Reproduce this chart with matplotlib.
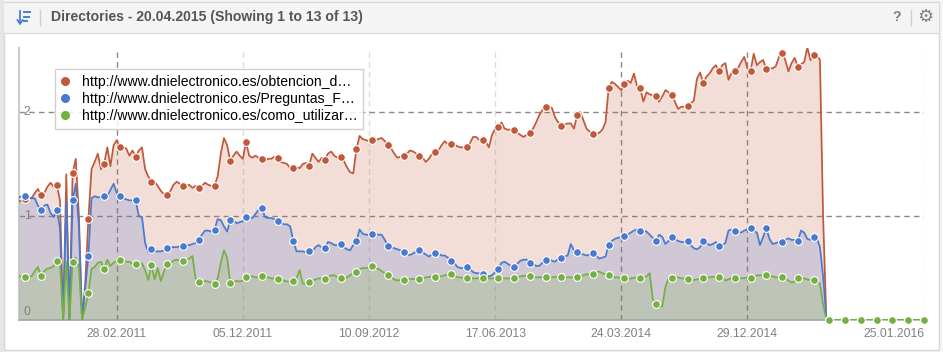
import pandas as pd
import numpy as np
import matplotlib
matplotlib.use("Agg")
import matplotlib.pyplot as plt
from matplotlib.lines import Line2D
from matplotlib.patches import Rectangle

plt.rcParams['font.family'] = ['Liberation Sans', 'DejaVu Sans']

title = "Directories - 20.04.2015 (Showing 1 to 13 of 13)"
series_names = ["http://www.dnielectronico.es/obtencion_d…",
                "http://www.dnielectronico.es/Preguntas_F…",
                "http://www.dnielectronico.es/como_utilizar…"]
tick_labels = ["28.02.2011", "05.12.2011", "10.09.2012", "17.06.2013",
               "24.03.2014", "29.12.2014", "25.01.2016"]
y_labels = [0, 1, 2]
first_week = "2010-07-26"

# weekly values, every 5th week carries a marker
red = [1.14, 1.15,
       1.16, 1.18, 1.17, 1.22, 1.26, 1.20, 1.22, 1.28, 1.32, 1.28,
       1.30, 1.15, 0.0, 1.40, 0.0, 1.41, 1.55, 1.0, 0.0, 0.35,
       0.97, 1.45, 1.52, 1.60, 1.45, 1.50, 1.66, 1.48, 1.68, 1.73,
       1.66, 1.66, 1.65, 1.58, 1.63, 1.57, 1.63, 1.66, 1.45, 1.38,
       1.33, 1.33, 1.29, 1.24, 1.21, 1.20, 1.24, 1.30, 1.33, 1.31,
       1.29, 1.29, 1.30, 1.27, 1.29, 1.27, 1.29, 1.32, 1.30, 1.29,
       1.29, 1.38, 1.60, 1.75, 1.68, 1.53, 1.58, 1.62, 1.58, 1.55,
       1.71, 1.58, 1.56, 1.58, 1.56, 1.55, 1.53, 1.55, 1.55, 1.57,
       1.56, 1.52, 1.51, 1.50, 1.46, 1.46, 1.47, 1.46, 1.50, 1.51,
       1.48, 1.60, 1.56, 1.52, 1.56, 1.54, 1.60, 1.62, 1.58, 1.56,
       1.57, 1.53, 1.47, 1.42, 1.41, 1.64, 1.77, 1.74, 1.73, 1.72,
       1.73, 1.73, 1.74, 1.75, 1.72, 1.68, 1.65, 1.60, 1.56, 1.57,
       1.58, 1.60, 1.63, 1.62, 1.60, 1.58, 1.56, 1.52, 1.55, 1.60,
       1.62, 1.63, 1.68, 1.72, 1.69, 1.69, 1.69, 1.67, 1.66, 1.66,
       1.66, 1.70, 1.76, 1.76, 1.73, 1.73, 1.72, 1.66, 1.78, 1.84,
       1.86, 1.90, 1.84, 1.83, 1.83, 1.83, 1.80, 1.78, 1.76, 1.78,
       1.80, 1.84, 1.90, 1.97, 2.02, 2.045, 2.05, 2.04, 1.95, 1.90,
       1.87, 1.88, 1.89, 1.89, 1.84, 1.97, 2.00, 1.92, 1.84, 1.81,
       1.79, 1.79, 1.80, 1.83, 1.90, 2.23, 2.29, 2.27, 2.24, 2.21,
       2.27, 2.30, 2.28, 2.37, 2.25, 2.23, 2.10, 2.19, 2.17, 2.16,
       2.15, 2.10, 2.15, 2.21, 2.19, 2.165, 2.10, 2.03, 2.05, 2.05,
       2.06, 2.08, 2.11, 2.32, 2.38, 2.275, 2.34, 2.37, 2.42, 2.45,
       2.39, 2.45, 2.47, 2.31, 2.38, 2.395, 2.42, 2.48, 2.53, 2.42,
       2.395, 2.56, 2.45, 2.48, 2.50, 2.41, 2.42, 2.42, 2.44, 2.53,
       2.57, 2.50, 2.39, 2.47, 2.52, 2.435, 2.46, 2.48, 2.62, 2.50,
       2.55, 2.55, 2.50, 1.0, 0.03,
       0, 0, 0, 0, 0, 0, 0, 0, 0, 0, 0, 0, 0, 0, 0, 0,
       0, 0, 0, 0, 0, 0, 0, 0, 0, 0, 0, 0, 0, 0, 0]

blue = [1.18, 1.19,
        1.19, 1.18, 1.17, 1.17, 1.10, 1.06, 1.10, 1.11, 1.03, 0.99,
        1.06, 0.88, 0.0, 1.15, 0.0, 1.15, 1.31, 0.90, 0.0, 0.30,
        0.62, 1.17, 1.19, 1.18, 1.18, 1.19, 1.19, 1.25, 1.31, 1.22,
        1.19, 1.17, 1.16, 1.15, 1.15, 1.15, 1.0, 0.99, 0.74, 0.65,
        0.68, 0.66, 0.66, 0.66, 0.67, 0.69, 0.70, 0.70, 0.70, 0.71,
        0.71, 0.72, 0.72, 0.73, 0.74, 0.77, 0.82, 0.86, 0.86, 0.85,
        0.87, 0.97, 0.96, 0.90, 0.85, 0.96, 0.96, 0.93, 0.94, 0.95,
        0.99, 0.99, 0.98, 1.02, 1.06, 1.08, 0.99, 0.98, 0.98, 0.97,
        0.955, 0.94, 0.92, 0.92, 0.90, 0.76, 0.66, 0.66, 0.66, 0.65,
        0.66, 0.66, 0.70, 0.72, 0.70, 0.695, 0.75, 0.74, 0.72, 0.72,
        0.73, 0.70, 0.68, 0.67, 0.72, 0.755, 0.87, 0.83, 0.82, 0.82,
        0.83, 0.83, 0.82, 0.82, 0.77, 0.715, 0.70, 0.69, 0.68, 0.67,
        0.65, 0.63, 0.625, 0.64, 0.66, 0.67, 0.65, 0.63, 0.61, 0.63,
        0.645, 0.64, 0.62, 0.62, 0.60, 0.57, 0.55, 0.51, 0.50, 0.50,
        0.505, 0.49, 0.46, 0.45, 0.45, 0.44, 0.43, 0.42, 0.43, 0.46,
        0.495, 0.55, 0.56, 0.54, 0.52, 0.51, 0.54, 0.57, 0.58, 0.58,
        0.55, 0.54, 0.52, 0.52, 0.55, 0.58, 0.58, 0.57, 0.56, 0.59,
        0.60, 0.61, 0.62, 0.73, 0.67, 0.65, 0.64, 0.63, 0.62, 0.63,
        0.645, 0.62, 0.59, 0.60, 0.61, 0.72, 0.76, 0.78, 0.79, 0.80,
        0.81, 0.82, 0.84, 0.86, 0.87, 0.86, 0.86, 0.85, 0.82, 0.79,
        0.76, 0.82, 0.80, 0.73, 0.76, 0.80, 0.78, 0.76, 0.75, 0.75,
        0.76, 0.72, 0.69, 0.68, 0.70, 0.76, 0.74, 0.72, 0.73, 0.75,
        0.71, 0.72, 0.74, 0.86, 0.87, 0.86, 0.85, 0.84, 0.86, 0.87,
        0.88, 0.86, 0.84, 0.72, 0.80, 0.88, 0.78, 0.73, 0.74, 0.75,
        0.75, 0.77, 0.785, 0.77, 0.77, 0.76, 0.86, 0.84, 0.78, 0.77,
        0.795, 0.79, 0.70, 0.42, 0.03,
        0, 0, 0, 0, 0, 0, 0, 0, 0, 0, 0, 0, 0, 0, 0, 0,
        0, 0, 0, 0, 0, 0, 0, 0, 0, 0, 0, 0, 0, 0, 0]

green = [0.42, 0.42,
         0.415, 0.42, 0.42, 0.47, 0.51, 0.42, 0.47, 0.495, 0.50, 0.52,
         0.57, 0.55, 0.0, 0.56, 0.0, 0.56, 0.60, 0.50, 0.0, 0.12,
         0.26, 0.49, 0.51, 0.55, 0.56, 0.49, 0.58, 0.52, 0.55, 0.57,
         0.58, 0.57, 0.56, 0.56, 0.54, 0.54, 0.535, 0.545, 0.48, 0.385,
         0.53, 0.39, 0.50, 0.375, 0.47, 0.54, 0.55, 0.57, 0.58, 0.57,
         0.57, 0.58, 0.59, 0.615, 0.40, 0.365, 0.37, 0.375, 0.37, 0.36,
         0.35, 0.40, 0.55, 0.67, 0.60, 0.36, 0.37, 0.375, 0.37, 0.38,
         0.41, 0.42, 0.42, 0.41, 0.41, 0.42, 0.41, 0.41, 0.40, 0.40,
         0.39, 0.39, 0.38, 0.37, 0.37, 0.375, 0.40, 0.48, 0.35, 0.35,
         0.37, 0.38, 0.39, 0.40, 0.40, 0.39, 0.41, 0.43, 0.43, 0.41,
         0.40, 0.40, 0.41, 0.43, 0.45, 0.46, 0.49, 0.50, 0.50, 0.50,
         0.52, 0.50, 0.49, 0.47, 0.45, 0.43, 0.41, 0.39, 0.38, 0.385,
         0.385, 0.39, 0.395, 0.395, 0.39, 0.395, 0.40, 0.41, 0.415, 0.415,
         0.415, 0.42, 0.42, 0.43, 0.44, 0.44, 0.43, 0.41, 0.41, 0.40,
         0.40, 0.40, 0.40, 0.40, 0.40, 0.40, 0.40, 0.40, 0.40, 0.40,
         0.405, 0.40, 0.40, 0.40, 0.40, 0.40, 0.41, 0.42, 0.425, 0.425,
         0.425, 0.42, 0.41, 0.41, 0.415, 0.415, 0.41, 0.41, 0.415, 0.415,
         0.415, 0.41, 0.41, 0.41, 0.41, 0.41, 0.42, 0.43, 0.44, 0.44,
         0.445, 0.46, 0.465, 0.45, 0.44, 0.435, 0.42, 0.41, 0.41, 0.40,
         0.405, 0.40, 0.40, 0.405, 0.41, 0.405, 0.41, 0.42, 0.45, 0.20,
         0.155, 0.13, 0.13, 0.32, 0.40, 0.405, 0.41, 0.41, 0.40, 0.40,
         0.395, 0.38, 0.385, 0.39, 0.40, 0.405, 0.41, 0.41, 0.415, 0.415,
         0.415, 0.41, 0.38, 0.39, 0.405, 0.405, 0.405, 0.40, 0.405, 0.405,
         0.405, 0.41, 0.43, 0.43, 0.43, 0.43, 0.42, 0.42, 0.41, 0.41,
         0.41, 0.40, 0.38, 0.36, 0.37, 0.405, 0.40, 0.40, 0.39, 0.385,
         0.38, 0.37, 0.35, 0.15, 0.01,
         0, 0, 0, 0, 0, 0, 0, 0, 0, 0, 0, 0, 0, 0, 0, 0,
         0, 0, 0, 0, 0, 0, 0, 0, 0, 0, 0, 0, 0, 0, 0]

colors = ['#C0583A', '#4A7AD0', '#76B043']
W, H = 943, 352

fig = plt.figure(figsize=(W / 100, H / 100), dpi=100, facecolor='white')

# page furniture in pixel coordinates
bg = fig.add_axes([0, 0, 1, 1])
bg.set_xlim(0, W)
bg.set_ylim(H, 0)
bg.axis('off')
bg.add_patch(Rectangle((0, 0), W, H, fc='#f6f6f6', ec='none'))
bg.add_patch(Rectangle((0, 0), 3.5, H, fc='#e6e6e6', ec='none'))
bg.add_patch(Rectangle((3.5, 2), 935.5, 348, fc='white', ec='#d6d6d6', lw=1))
bg.add_patch(Rectangle((4, 2.5), 934.5, 30, fc='#f4f4f4', ec='none'))
bg.plot([4, 939], [32.5, 32.5], color='#dddddd', lw=1)
bg.plot([39.5, 39.5], [10, 25], color='#cfcfcf', lw=1)
bg.plot([910.5, 910.5], [10, 25], color='#cfcfcf', lw=1)
# sort icon
bg.plot([20, 20], [11, 23], color='#4a7fd0', lw=1.3)
bg.plot([17.5, 20, 22.5], [20, 24, 20], color='#4a7fd0', lw=1.3)
for yy, xr in [(12, 30), (16.5, 28.5), (21, 26.5)]:
    bg.plot([24, xr], [yy, yy], color='#4a7fd0', lw=1.4)
bg.text(51, 17, title, fontsize=10.1, fontweight='bold', color='#555555', va='center', ha='left')
bg.text(897, 17, "?", fontsize=10, fontweight='bold', color='#808080', va='center', ha='center')
bg.text(925, 17, "\u2699", fontsize=13, fontweight='bold', color='#808080', va='center', ha='center', family='DejaVu Sans')

dates = pd.date_range(first_week, periods=len(red), freq='7D')
tick_dates = pd.to_datetime(tick_labels, format='%d.%m.%Y')

ax = fig.add_axes([19 / W, 1 - 320 / H, 905 / W, 272 / H])
ax.patch.set_alpha(0)
ax.set_xlim(dates[0], dates[-1])
ax.set_ylim(0, 272 / 104)

# grid, some of the vertical lines are fainter in the original
for d, c in zip(tick_dates, ['#8a8a8a', '#dddddd', '#dddddd', '#dddddd', '#8a8a8a', '#8a8a8a', '#e4e4e4']):
    ax.axvline(d, color=c, lw=1, dashes=(4, 3), zorder=1)
for v in y_labels[1:]:
    ax.axhline(v, color='#8a8a8a', lw=1, dashes=(4, 3), zorder=1)

for i, (vals, c) in enumerate(zip([red, blue, green], colors)):
    ax.fill_between(dates, vals, 0, color=c, alpha=0.2, lw=0, zorder=2 + i)
    ax.plot(dates, vals, color=c, lw=1.25, zorder=5 + i, solid_joinstyle='round')
for i, (vals, c) in enumerate(zip([red, blue, green], colors)):
    ax.plot(dates[2::5], np.array(vals)[2::5], ls='none', marker='o', ms=5.6, mfc=c,
            mec='white', mew=0.8, zorder=8 + i, clip_on=False)

for s in ['top', 'right']:
    ax.spines[s].set_visible(False)
ax.spines['left'].set_color('#cccccc')
ax.spines['left'].set_linewidth(1.6)
ax.spines['bottom'].set_color('#b5b5b5')
ax.spines['bottom'].set_linewidth(1.2)

ax.set_xticks(tick_dates)
ax.set_xticklabels(tick_labels, fontsize=8.7, color='#808080')
ax.tick_params(axis='x', length=0, pad=5.5)
ax.get_xticklabels()[-1].set_ha('right')
ax.set_yticks([])
for v in y_labels:
    ax.annotate(str(v), (0, v), xycoords=('axes fraction', 'data'), xytext=(8, 8 if v == 0 else 0),
                textcoords='offset pixels', fontsize=8.7, color='#808080', ha='center', va='center', zorder=12)

handles = [Line2D([], [], ls='none', marker='o', ms=6.5, mfc=c, mec='none') for c in colors]
leg = ax.legend(handles, series_names, loc='upper left', bbox_to_anchor=(55 / W, 1 - 69 / H),
                bbox_transform=fig.transFigure, fontsize=10.05, frameon=True, fancybox=False,
                edgecolor='#c8c8c8', framealpha=0.85, borderaxespad=0, borderpad=0.42,
                labelspacing=0.22, handletextpad=0.9, handlelength=0.6)
leg.get_frame().set_linewidth(1)
leg.set_zorder(20)

fig.savefig('out.png', dpi=100, facecolor='white')
